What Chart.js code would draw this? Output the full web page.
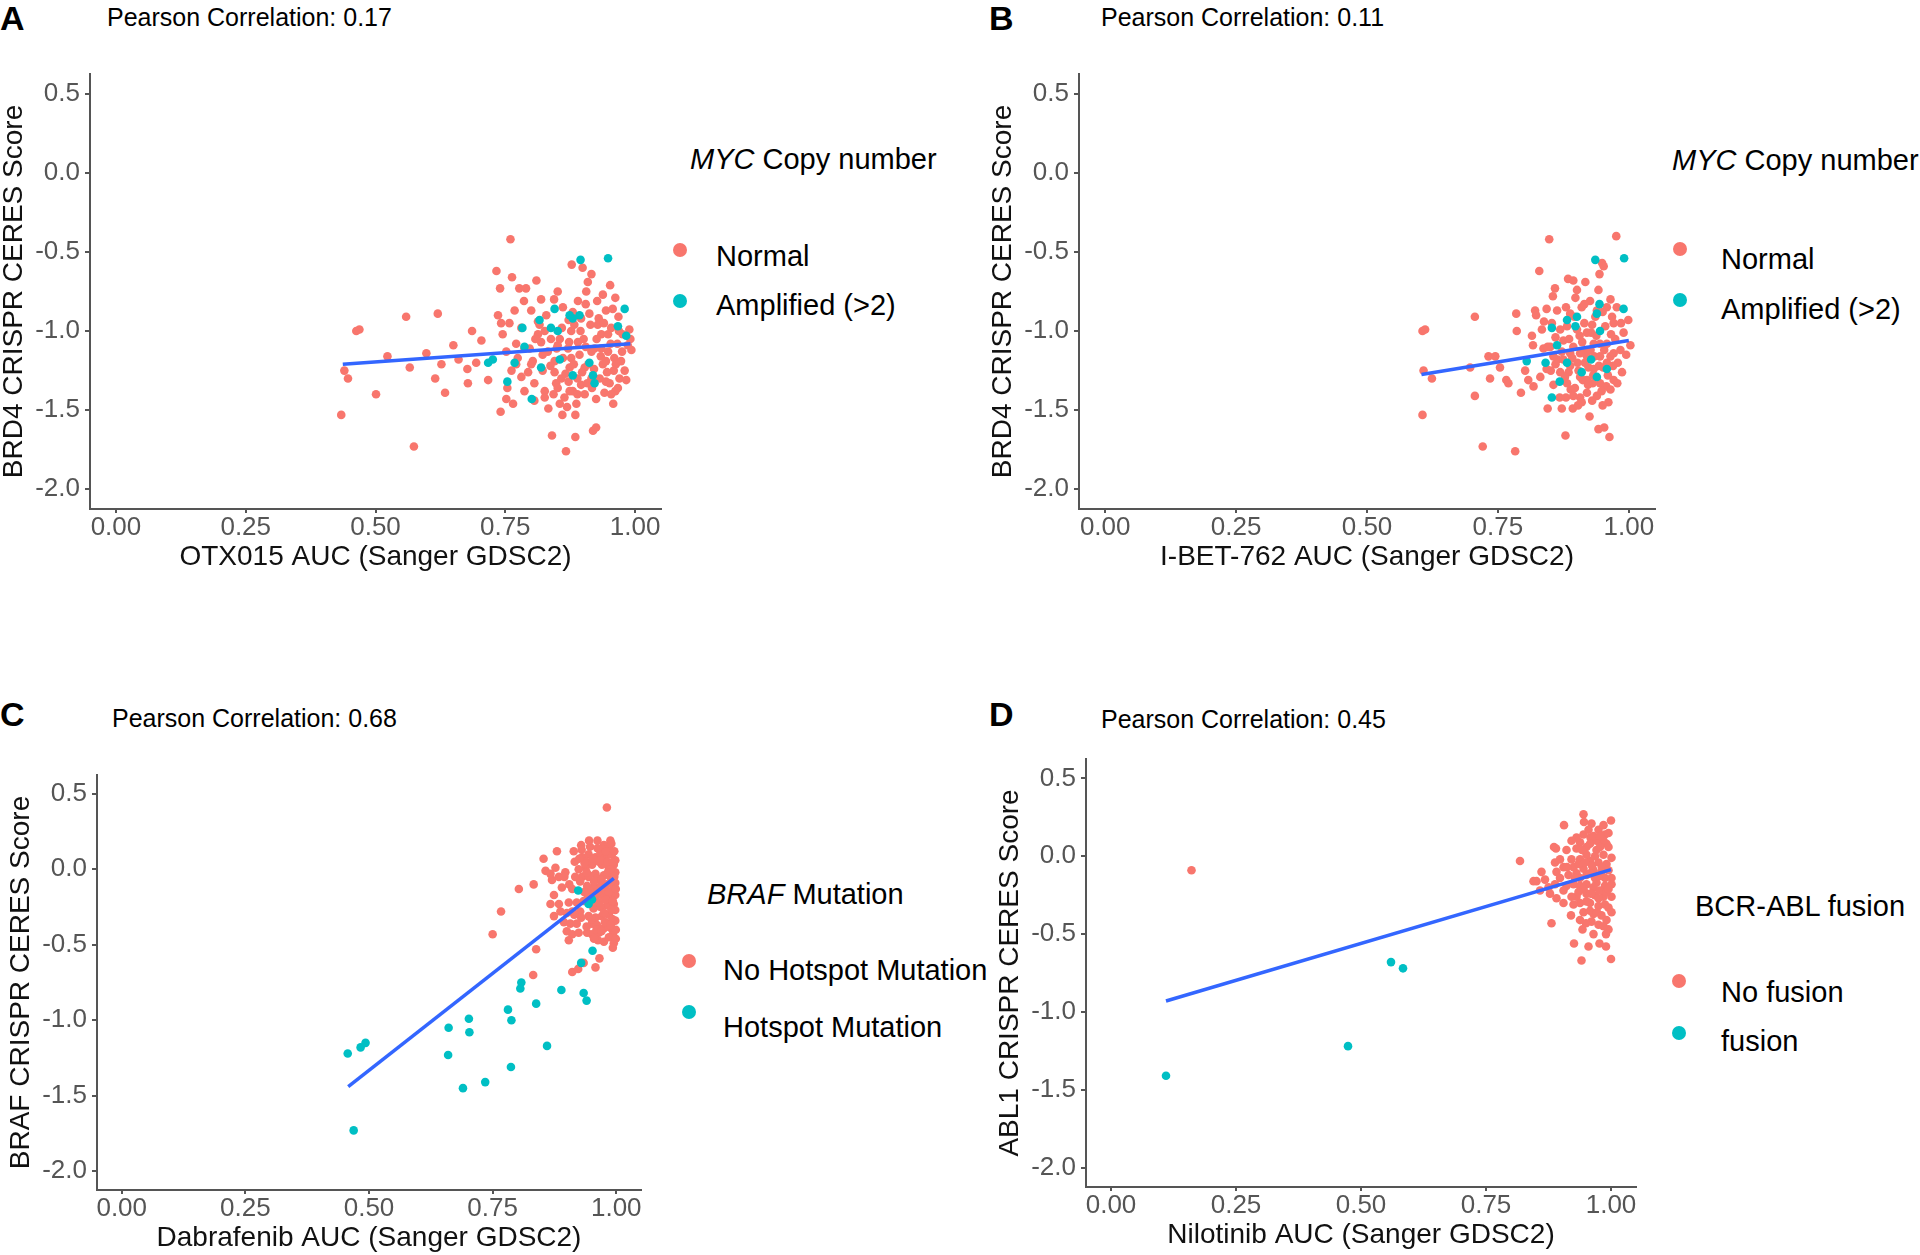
<!DOCTYPE html>
<html>
<head>
<meta charset="utf-8">
<script src="https://cdn.jsdelivr.net/npm/chart.js@4.4.0/dist/chart.umd.min.js"></script>
<style>
  body { margin:0; width:1920px; height:1255px; overflow:hidden; background:#fff; position:relative;
         font-family:"Liberation Sans", Arial, sans-serif; }
  .t { position:absolute; white-space:nowrap; line-height:1; color:#000; }
  .panel { font-weight:bold; font-size:34px; }
  .pear { font-size:25px; }
  .lg { font-size:29px; }
  .dot { position:absolute; width:14px; height:14px; border-radius:50%; margin:-7px 0 0 -7px; }
  canvas { position:absolute; }
</style>
</head>
<body>

<div class="t panel" style="left:0;top:1px">A</div>
<div class="t pear" style="left:107px;top:5px">Pearson Correlation: 0.17</div>
<div class="t lg" style="left:690px;top:145px"><i>MYC</i> Copy number</div>
<div class="dot" style="left:680px;top:250px;background:#F8766D"></div>
<div class="dot" style="left:680px;top:301px;background:#00BFC4"></div>
<div class="t lg" style="left:716px;top:242px">Normal</div>
<div class="t lg" style="left:716px;top:291px">Amplified (&gt;2)</div>
<canvas id="chartA" width="681" height="515" style="left:0;top:56px"></canvas>

<div class="t panel" style="left:989px;top:1px">B</div>
<div class="t pear" style="left:1101px;top:5px">Pearson Correlation: 0.11</div>
<div class="t lg" style="left:1672px;top:146px"><i>MYC</i> Copy number</div>
<div class="dot" style="left:1680px;top:249px;background:#F8766D"></div>
<div class="dot" style="left:1680px;top:300px;background:#00BFC4"></div>
<div class="t lg" style="left:1721px;top:245px">Normal</div>
<div class="t lg" style="left:1721px;top:295px">Amplified (&gt;2)</div>
<canvas id="chartB" width="686" height="515" style="left:989px;top:56px"></canvas>

<div class="t panel" style="left:0;top:697px">C</div>
<div class="t pear" style="left:112px;top:706px">Pearson Correlation: 0.68</div>
<div class="t lg" style="left:707px;top:880px"><i>BRAF</i> Mutation</div>
<div class="dot" style="left:689px;top:961px;background:#F8766D"></div>
<div class="dot" style="left:689px;top:1012px;background:#00BFC4"></div>
<div class="t lg" style="left:723px;top:956px">No Hotspot Mutation</div>
<div class="t lg" style="left:723px;top:1013px">Hotspot Mutation</div>
<canvas id="chartC" width="654" height="495" style="left:7px;top:757px"></canvas>

<div class="t panel" style="left:989px;top:697px">D</div>
<div class="t pear" style="left:1101px;top:707px">Pearson Correlation: 0.45</div>
<div class="t lg" style="left:1695px;top:892px">BCR-ABL fusion</div>
<div class="dot" style="left:1679px;top:981px;background:#F8766D"></div>
<div class="dot" style="left:1679px;top:1033px;background:#00BFC4"></div>
<div class="t lg" style="left:1721px;top:978px">No fusion</div>
<div class="t lg" style="left:1721px;top:1027px">fusion</div>
<canvas id="chartD" width="660" height="508" style="left:996px;top:741px"></canvas>

<script>
// axes shared by all four panels
const xTickVals = [0, 0.25, 0.5, 0.75, 1];
const xTickLabels = ['0.00', '0.25', '0.50', '0.75', '1.00'];
const yTickVals = [0.5, 0, -0.5, -1, -1.5, -2];
const yTickLabels = ['0.5', '0.0', '-0.5', '-1.0', '-1.5', '-2.0'];

// A: OTX015 AUC vs BRD4 CERES
const aNormal = [[0.434,-1.53],[0.440,-1.25],[0.447,-1.30],[0.463,-1.00],[0.469,-0.99],[0.501,-1.40],[0.523,-1.16],[0.559,-0.91],[0.566,-1.23],[0.574,-1.73],[0.598,-1.14],[0.615,-1.30],[0.620,-0.89],[0.627,-1.21],[0.634,-1.39],[0.650,-1.09],[0.660,-1.18],[0.678,-1.33],[0.677,-1.24],[0.686,-1.00],[0.694,-1.20],[0.704,-1.06],[0.717,-1.31],[0.733,-0.62],[0.736,-0.90],[0.740,-0.73],[0.742,-0.95],[0.745,-1.02],[0.741,-1.51],[0.752,-1.43],[0.754,-1.36],[0.760,-0.42],[0.763,-0.66],[0.765,-1.46],[0.768,-0.87],[0.771,-1.08],[0.774,-1.17],[0.777,-0.73],[0.781,-0.98],[0.786,-0.81],[0.790,-0.73],[0.787,-1.38],[0.794,-1.26],[0.797,-1.11],[0.800,-0.87],[0.803,-1.19],[0.806,-1.33],[0.810,-0.68],[0.813,-1.02],[0.816,-0.96],[0.819,-0.80],[0.822,-1.25],[0.826,-1.38],[0.829,-0.90],[0.833,-1.49],[0.838,-1.05],[0.840,-1.66],[0.844,-0.80],[0.845,-1.19],[0.848,-1.33],[0.851,-0.75],[0.851,-1.09],[0.855,-1.46],[0.858,-1.30],[0.861,-0.85],[0.864,-1.42],[0.867,-1.76],[0.869,-1.48],[0.871,-1.11],[0.874,-1.23],[0.877,-1.00],[0.878,-0.58],[0.880,-1.38],[0.883,-0.96],[0.885,-1.53],[0.885,-1.67],[0.887,-1.46],[0.889,-1.30],[0.890,-0.81],[0.893,-1.15],[0.896,-1.34],[0.899,-0.60],[0.901,-1.05],[0.903,-1.40],[0.906,-0.75],[0.909,-0.69],[0.910,-1.21],[0.914,-0.96],[0.916,-0.64],[0.917,-1.36],[0.919,-1.63],[0.925,-1.61],[0.922,-1.11],[0.927,-0.81],[0.930,-0.92],[0.932,-1.30],[0.935,-1.02],[0.938,-1.21],[0.941,-1.39],[0.944,-0.87],[0.948,-1.13],[0.951,-1.33],[0.954,-0.98],[0.957,-0.86],[0.959,-1.25],[0.962,-1.38],[0.966,-1.08],[0.968,-0.91],[0.970,-1.30],[0.973,-1.19],[0.976,-1.02],[0.983,-1.31],[0.986,-1.09],[0.989,-0.99],[0.993,-1.12],[0.991,-1.05],
  [0.787,-1.11],[0.800,-1.21],[0.819,-1.07],[0.832,-1.13],[0.855,-1.05],[0.861,-1.17],[0.845,-1.26],[0.877,-1.17],[0.890,-1.07],[0.903,-1.23],[0.916,-1.13],[0.935,-1.11],[0.948,-1.02],[0.944,-1.19],[0.960,-1.17],[0.928,-0.96],[0.896,-0.92],[0.880,-0.88],[0.813,-0.94],[0.826,-1.00],[0.771,-1.21],[0.762,-1.25],[0.781,-1.29],[0.806,-1.44],[0.826,-1.42],[0.851,-1.36],[0.874,-1.38],[0.916,-1.30],[0.954,-1.40],[0.967,-1.36],[0.758,-0.95],[0.752,-1.13],
  [0.808,-1.05],[0.822,-1.15],[0.837,-1.22],[0.849,-1.11],[0.859,-0.98],[0.866,-1.27],[0.873,-1.07],[0.882,-1.21],[0.895,-1.00],[0.898,-1.26],[0.905,-1.10],[0.912,-0.89],[0.921,-1.24],[0.926,-1.05],[0.934,-1.16],[0.940,-0.95],[0.946,-1.26],[0.953,-1.08],[0.963,-1.21],[0.969,-1.00],[0.975,-1.13],[0.980,-1.25],[0.872,-1.32],[0.889,-1.40],[0.908,-1.33],[0.925,-1.43],[0.944,-1.32],[0.958,-1.46],[0.843,-1.40],[0.860,-1.53],[0.872,-0.93],[0.905,-0.83],[0.938,-0.77],[0.952,-0.71],[0.962,-0.79]];
const aAmplified = [[0.895,-0.55],[0.948,-0.54],[0.980,-0.86],[0.967,-0.97],[0.845,-0.86],[0.874,-0.90],[0.893,-0.90],[0.880,-0.92],[0.816,-0.93],[0.783,-0.98],[0.838,-0.98],[0.851,-1.00],[0.983,-1.03],[0.787,-1.10],[0.855,-1.18],[0.912,-1.20],[0.768,-1.20],[0.717,-1.20],[0.726,-1.18],[0.819,-1.23],[0.880,-1.28],[0.919,-1.28],[0.754,-1.32],[0.801,-1.43],[0.922,-1.33]];
const aFit = [[0.437,-1.21],[0.991,-1.08]];

// B: I-BET-762 AUC vs BRD4 CERES
const bNormal = [[0.606,-1.00],[0.611,-0.99],[0.608,-1.25],[0.624,-1.30],[0.606,-1.53],[0.706,-0.91],[0.706,-1.41],[0.697,-1.23],[0.721,-1.73],[0.783,-1.76],[0.735,-1.30],[0.732,-1.16],[0.745,-1.16],[0.754,-1.23],[0.766,-1.31],[0.770,-1.33],[0.785,-0.89],[0.786,-1.00],[0.794,-1.39],[0.802,-1.25],[0.808,-1.31],[0.815,-1.03],[0.817,-1.09],[0.818,-1.35],[0.821,-0.87],[0.823,-0.90],[0.829,-0.62],[0.831,-1.29],[0.834,-0.99],[0.838,-0.94],[0.843,-0.86],[0.845,-1.49],[0.848,-0.42],[0.851,-1.25],[0.853,-0.95],[0.855,-0.78],[0.856,-1.34],[0.859,-0.73],[0.863,-0.87],[0.864,-1.18],[0.868,-1.42],[0.872,-1.49],[0.875,-1.06],[0.879,-1.66],[0.880,-0.85],[0.882,-0.97],[0.884,-0.67],[0.885,-1.26],[0.888,-1.14],[0.889,-1.37],[0.893,-1.49],[0.894,-0.68],[0.896,-0.91],[0.898,-0.79],[0.901,-0.74],[0.902,-1.20],[0.906,-1.03],[0.907,-1.42],[0.910,-0.85],[0.912,-1.31],[0.915,-0.95],[0.917,-0.69],[0.919,-1.12],[0.920,-1.39],[0.923,-1.23],[0.926,-0.81],[0.928,-1.01],[0.931,-1.33],[0.934,-1.16],[0.936,-0.91],[0.939,-1.41],[0.942,-0.74],[0.942,-1.62],[0.944,-0.64],[0.945,-1.08],[0.949,-0.57],[0.951,-1.23],[0.952,-0.59],[0.953,-1.61],[0.955,-0.97],[0.957,-1.35],[0.958,-0.85],[0.961,-1.45],[0.963,-1.67],[0.965,-1.16],[0.968,-0.91],[0.971,-1.31],[0.974,-1.05],[0.976,-0.40],[0.977,-0.85],[0.979,-1.20],[0.984,-1.12],[0.987,-1.26],[0.990,-1.01],[0.999,-0.93],[1.003,-1.09],
  [0.875,-1.18],[0.888,-1.22],[0.907,-1.14],[0.920,-1.16],[0.933,-1.24],[0.945,-1.16],[0.958,-1.20],[0.907,-1.29],[0.894,-1.10],[0.933,-1.08],[0.920,-1.01],[0.901,-0.99],[0.869,-0.99],[0.958,-1.08],[0.971,-1.14],[0.945,-1.33],[0.920,-1.31],[0.882,-1.33],[0.869,-1.26],[0.856,-1.16],[0.850,-1.10],[0.971,-0.95],[0.939,-0.87],[0.888,-0.89],[0.910,-1.45],[0.930,-1.44],[0.965,-1.37],[0.894,-1.41],[0.843,-1.24],[0.837,-1.11],
  [0.860,-1.21],[0.872,-1.13],[0.878,-1.29],[0.886,-1.05],[0.892,-1.17],[0.897,-1.36],[0.904,-1.25],[0.911,-1.07],[0.916,-1.20],[0.922,-1.34],[0.927,-1.12],[0.932,-1.28],[0.938,-1.03],[0.943,-1.22],[0.948,-1.38],[0.953,-1.12],[0.960,-1.28],[0.966,-1.02],[0.970,-1.22],[0.978,-1.33],[0.903,-1.47],[0.925,-1.54],[0.950,-1.47],[0.880,-1.42],[0.915,-0.83],[0.930,-0.96],[0.950,-0.88],[0.965,-0.80],[0.985,-0.95],[0.995,-1.15],[0.860,-1.04],[0.845,-1.10]];
const bAmplified = [[0.936,-0.55],[0.991,-0.54],[0.944,-0.83],[0.990,-0.86],[0.939,-0.89],[0.901,-0.91],[0.882,-0.93],[0.853,-0.98],[0.945,-1.00],[0.898,-0.97],[0.863,-1.09],[0.805,-1.19],[0.841,-1.20],[0.882,-1.20],[0.928,-1.18],[0.910,-1.26],[0.939,-1.29],[0.958,-1.24],[0.868,-1.32],[0.853,-1.42]];
const bFit = [[0.604,-1.275],[1.0,-1.06]];

// C: Dabrafenib AUC vs BRAF CERES
const cNoHotspot = [[0.981,0.41],[0.988,0.19],[0.975,0.16],[0.929,0.16],[0.880,0.12],[0.914,0.12],[0.853,0.07],[0.857,-0.01],[0.877,0.01],[0.916,0.05],[0.803,-0.13],[0.833,-0.10],[0.767,-0.28],[0.750,-0.43],[0.838,-0.53],[0.832,-0.70],[0.934,-0.62],[0.958,-0.65],[0.966,-0.59],[0.911,-0.68],[0.923,-0.66],[0.867,-0.23],[0.874,-0.31],[0.870,-0.07],[0.890,-0.12],[0.897,-0.02],[0.904,-0.22],[0.894,-0.35],[0.907,-0.36],[0.900,-0.41],[0.904,-0.47],[0.911,-0.43],[0.924,-0.42],[0.927,-0.28],[0.941,-0.42],[0.951,-0.43],[0.965,-0.42],[0.963,-0.47],[0.975,-0.39],[0.990,-0.39],[0.993,-0.43],[0.995,-0.49],[0.991,-0.35],
  [0.931,0.08],[0.944,0.10],[0.958,0.08],[0.968,0.11],[0.978,0.08],[0.991,0.10],[0.995,0.03],[0.985,0.01],[0.971,0.03],[0.951,0.03],[0.938,0.01],[0.924,0.00],[0.931,-0.05],[0.944,-0.05],[0.958,-0.03],[0.975,-0.04],[0.988,-0.05],[0.998,-0.02],[0.995,-0.12],[0.981,-0.10],[0.968,-0.11],[0.954,-0.12],[0.941,-0.11],[0.934,-0.21],[0.958,-0.19],[0.971,-0.17],[0.985,-0.19],[0.998,-0.17],[0.995,-0.23],[0.981,-0.24],[0.968,-0.25],[0.954,-0.26],[0.944,-0.31],[0.958,-0.32],[0.971,-0.31],[0.985,-0.30],[0.998,-0.27],[0.951,-0.36],[0.961,-0.37],[0.867,-0.03],[0.884,-0.05],[0.874,-0.17],[0.884,-0.23],[0.887,-0.28],[0.911,-0.28],[0.917,-0.05],[0.911,-0.13],[0.998,-0.09],[0.998,0.06],[0.988,0.00],[0.981,-0.38],[0.998,-0.34],
  [0.948,-0.15],[0.962,-0.06],[0.978,-0.14],[0.992,-0.07],[0.965,0.05],[0.985,0.14],[0.940,0.05],[0.955,-0.22],[0.990,-0.27],[0.975,-0.29],[0.999,-0.40],[0.985,-0.45],[0.945,-0.04],[0.960,-0.40],
  [0.930,0.13],[0.947,0.15],[0.962,0.14],[0.979,0.12],[0.996,0.12],[0.936,0.04],[0.953,0.07],[0.968,0.06],[0.982,0.05],[0.993,0.05],[0.927,-0.08],[0.940,-0.02],[0.955,-0.08],[0.970,-0.07],[0.983,-0.02],[0.996,-0.05],[0.935,-0.15],[0.962,-0.15],[0.985,-0.15],[0.999,-0.13],[0.942,-0.19],[0.966,-0.22],[0.979,-0.20],[0.993,-0.21],[0.929,-0.32],[0.950,-0.33],[0.977,-0.35],[0.992,-0.33],[0.940,-0.38],[0.970,-0.41],[0.988,-0.37],[0.999,-0.46],[0.993,-0.52],[0.975,-0.48],[0.955,-0.46],[0.920,-0.36],[0.915,-0.30],[0.900,-0.29],[0.905,-0.10],[0.895,-0.05],[0.920,-0.22],[0.925,0.07],[0.945,0.19],[0.962,0.19],[0.990,0.17]];
const cHotspot = [[0.457,-1.22],[0.483,-1.18],[0.493,-1.15],[0.469,-1.73],[0.661,-1.05],[0.660,-1.23],[0.702,-0.99],[0.703,-1.08],[0.690,-1.45],[0.735,-1.41],[0.781,-0.93],[0.788,-1.00],[0.787,-1.31],[0.808,-0.75],[0.806,-0.79],[0.838,-0.89],[0.860,-1.17],[0.889,-0.80],[0.934,-0.82],[0.940,-0.87],[0.929,-0.62],[0.952,-0.54],[0.923,-0.14],[0.951,-0.20],[0.944,-0.23]];
const cFit = [[0.458,-1.44],[0.995,-0.06]];

// D: Nilotinib AUC vs ABL1 CERES
const dNoFusion = [[0.161,-0.09],[0.818,-0.03],
  [0.945,0.27],[1.000,0.23],[0.906,0.20],[0.946,0.22],[0.961,0.21],[0.975,0.17],[0.985,0.20],[0.988,0.14],[0.959,0.12],[0.938,0.09],[0.991,0.08],[0.886,0.06],[0.890,0.05],[0.911,0.04],[0.931,0.05],[0.951,0.06],[0.971,0.04],[0.985,0.01],[1.001,-0.01],[0.888,-0.04],[0.898,-0.02],[0.921,-0.02],[0.938,-0.02],[0.958,-0.03],[0.975,-0.04],[0.991,-0.05],[0.905,-0.07],[0.891,-0.10],[0.861,-0.10],[0.845,-0.16],[0.851,-0.16],[0.868,-0.15],[0.898,-0.14],[0.915,-0.12],[0.931,-0.11],[0.945,-0.08],[0.965,-0.09],[0.981,-0.10],[1.001,-0.14],[0.888,-0.18],[0.911,-0.19],[0.938,-0.19],[0.951,-0.18],[0.971,-0.17],[0.988,-0.19],[1.001,-0.18],[0.878,-0.24],[0.905,-0.22],[0.931,-0.26],[0.951,-0.24],[0.968,-0.25],[0.985,-0.26],[1.001,-0.26],[0.891,-0.27],[0.938,-0.30],[0.958,-0.30],[0.975,-0.32],[0.995,-0.33],[0.945,-0.36],[0.965,-0.37],[0.981,-0.38],[1.001,-0.36],[0.881,-0.43],[0.938,-0.41],[0.961,-0.42],[0.975,-0.44],[0.991,-0.41],[0.943,-0.47],[0.995,-0.47],[0.990,-0.50],[0.926,-0.56],[0.977,-0.56],[0.941,-0.67],[1.000,-0.66],
  [0.951,0.01],[0.968,0.00],[0.925,-0.07],[0.951,-0.12],[0.968,-0.14],[0.988,-0.14],[0.925,-0.18],[0.938,-0.14],[0.921,-0.26],[0.951,-0.29],[0.965,-0.20],[0.978,-0.22],[0.991,-0.23],[0.985,0.10],[0.971,0.10],[0.945,0.14],[0.931,0.12],[0.921,0.10],
  [0.955,0.17],[0.965,0.13],[0.978,0.13],[0.995,0.15],[0.942,0.04],[0.958,0.08],[0.978,0.06],[0.995,0.06],[0.935,-0.05],[0.948,-0.04],[0.962,-0.06],[0.982,-0.07],[0.995,-0.09],[0.958,-0.11],[0.975,-0.13],[0.928,-0.14],[0.945,-0.21],[0.960,-0.24],[0.975,-0.27],[0.995,-0.21],[0.935,-0.23],[0.958,-0.35],[0.972,-0.36],[0.988,-0.31],[0.950,-0.43],[0.985,-0.45],[0.965,-0.50],[0.955,-0.58],[0.990,-0.58],[0.920,-0.38],[0.925,-0.31],[0.905,-0.30],[0.912,-0.07],[0.875,-0.20],[0.858,-0.22]];
const dFusion = [[0.110,-1.41],[0.474,-1.22],[0.560,-0.68],[0.584,-0.72]];
const dFit = [[0.110,-0.93],[1.0,-0.086]];

Chart.defaults.font.family = '"Liberation Sans", Arial, sans-serif';
Chart.defaults.animation = false;

const pts = arr => arr.map(p => ({ x: p[0], y: p[1] }));
const axisColor = '#555';

function makePanel(id, grpA, grpB, fit, xTitle, yTitle) {
  const ctx = document.getElementById(id).getContext('2d');
  return new Chart(ctx, {
    type: 'scatter',
    data: {
      datasets: [
        { type:'line', data: pts(fit), borderColor:'#3366FF', borderWidth:3.5, pointRadius:0, fill:false, order:0 },
        { data: pts(grpB), backgroundColor:'#00BFC4', borderWidth:0, pointRadius:4.3, order:1 },
        { data: pts(grpA), backgroundColor:'#F8766D', borderWidth:0, pointRadius:4.3, order:2 }
      ]
    },
    options: {
      responsive:false,
      events: [],
      layout:{ padding:{ top:15, right:20, bottom:0, left:0 } },
      plugins:{ legend:{ display:false }, tooltip:{ enabled:false } },
      scales:{
        x:{
          type:'linear', min:-0.05, max:1.05,
          afterBuildTicks: s => { s.ticks = xTickVals.map(v => ({ value:v })); },
          afterFit: s => { s.height = 62; },
          ticks:{ callback:(v, i) => xTickLabels[i], color:axisColor, font:{ size:26, lineHeight:1 }, padding:2, autoSkip:false, maxRotation:0 },
          grid:{ drawOnChartArea:false, drawTicks:true, tickLength:4, color:axisColor, lineWidth:2 },
          border:{ display:true, color:axisColor, width:2 },
          title:{ display:true, text:xTitle, color:'#111', font:{ size:28, lineHeight:1 }, padding:0 }
        },
        y:{
          type:'linear', min:-2.125, max:0.625,
          afterBuildTicks: s => { s.ticks = yTickVals.map(v => ({ value:v })); },
          afterFit: s => { s.width = 90; },
          ticks:{ callback:(v, i) => yTickLabels[i], color:axisColor, font:{ size:26, lineHeight:1 }, padding:5, autoSkip:false },
          grid:{ drawOnChartArea:false, drawTicks:true, tickLength:5, color:axisColor, lineWidth:2 },
          border:{ display:true, color:axisColor, width:2 },
          title:{ display:true, text:yTitle, color:'#111', font:{ size:28, lineHeight:1 }, padding:0 }
        }
      }
    }
  });
}

makePanel('chartA', aNormal, aAmplified, aFit, 'OTX015 AUC (Sanger GDSC2)', 'BRD4 CRISPR CERES Score');
makePanel('chartB', bNormal, bAmplified, bFit, 'I-BET-762 AUC (Sanger GDSC2)', 'BRD4 CRISPR CERES Score');
makePanel('chartC', cNoHotspot, cHotspot, cFit, 'Dabrafenib AUC (Sanger GDSC2)', 'BRAF CRISPR CERES Score');
makePanel('chartD', dNoFusion, dFusion, dFit, 'Nilotinib AUC (Sanger GDSC2)', 'ABL1 CRISPR CERES Score');
</script>
</body>
</html>
